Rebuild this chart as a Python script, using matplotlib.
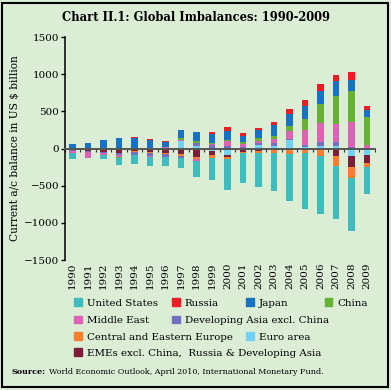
import matplotlib
matplotlib.use('Agg')
import matplotlib.pyplot as plt
from matplotlib.patches import Rectangle, Patch
import numpy as np

plt.rcParams['font.family'] = 'DejaVu Serif'

years = [str(y) for y in range(1990, 2010)]

# current account balances, US$ billion
us = [-80, -5, -50, -100, -122, -114, -125, -141, -215, -300,
      -412, -398, -459, -522, -631, -750, -790, -724, -700, -362]
russia = [0, 0, 0, 8, 8, 8, 12, 0, 0, 25, 45, 34, 30, 45, 60, 84, 98, 89, 98, 54]
japan = [48, 68, 112, 132, 130, 111, 66, 100, 118, 115,
         120, 88, 112, 136, 162, 170, 170, 201, 157, 89]
china = [12, 13, 6, -12, 8, 2, 7, 37, 31, 20, 20, 17, 35, 46, 67, 147, 255, 367, 415, 370]
middle_east = [-20, -70, -30, -25, -10, -10, 10, 10, -25, 10,
               70, 40, 30, 60, 112, 200, 259, 250, 340, 45]
dev_asia = [-10, -15, -5, -20, -35, -40, -40, -30, 45, 50,
            30, 25, 25, 30, 20, 30, 45, 45, 15, 10]
cee = [-5, -5, -5, -10, -10, -15, -20, -25, -30, -45,
       -30, -20, -25, -35, -60, -60, -94, -134, -157, -45]
euro = [0, -5, -5, 5, 5, 5, 10, 100, 30, -35, -80, 0, 50, 40, 110, 25, 40, 40, -95, -80]
emes = [-20, -25, -40, -55, -35, -50, -55, -70, -115, -45,
        -30, -45, -35, -20, -15, 0, 0, -94, -150, -120]

labels = ['United States', 'Russia', 'Japan', 'China', 'Middle East',
          'Developing Asia excl. China', 'Central and Eastern Europe',
          'Euro area', 'EMEs excl. China,  Russia & Developing Asia']
series = [us, russia, japan, china, middle_east, dev_asia, cee, euro, emes]
colors = ['#3dbdbd', '#ee1c25', '#1672c4', '#66b133', '#e062b4',
          '#7470c0', '#fb7e2f', '#72d2f6', '#7c1e3a']
# order in which the segments are stacked outward from zero
stack_order = [7, 8, 6, 5, 4, 3, 2, 1, 0]

bg = '#dcedd6'
fig = plt.figure(figsize=(3.91, 3.90), dpi=100, facecolor=bg)
ax = fig.add_axes([0.166, 0.333, 0.793, 0.572])
ax.set_facecolor(bg)

x = np.arange(len(years))
pos_base = np.zeros(len(years))
neg_base = np.zeros(len(years))
for k in stack_order:
    v = np.array(series[k], dtype=float)
    base = np.where(v >= 0, pos_base, neg_base)
    ax.bar(x, v, 0.42, bottom=base, color=colors[k], linewidth=0)
    pos_base += np.where(v >= 0, v, 0)
    neg_base += np.where(v < 0, v, 0)

ax.set_xlim(-0.5, len(years) - 0.5)
ax.set_ylim(-1500, 1500)
ax.set_yticks(range(-1500, 1501, 500))
ax.tick_params(axis='y', labelsize=7.5, length=3, width=1, pad=1)
ax.set_ylabel('Current a/c balance in US $ billion', fontsize=7.6, labelpad=3)

for s in ['top', 'right']:
    ax.spines[s].set_visible(False)
ax.spines['left'].set_linewidth(1.1)
ax.spines['bottom'].set_position(('data', 0))
ax.spines['bottom'].set_color('#555555')
ax.spines['bottom'].set_linewidth(1.4)
ax.set_xticks(x)
ax.set_xticks(np.arange(-0.5, len(years), 1.0), minor=True)
ax.tick_params(axis='x', which='major', length=0, labelbottom=False)
ax.tick_params(axis='x', which='minor', length=2.5, width=0.8, color='#333333')

sec = ax.secondary_xaxis(0)
sec.set_xticks(x, years, rotation=90, fontsize=7.5)
sec.tick_params(length=0, pad=2)
sec.spines['bottom'].set_visible(False)

fig.text(0.5, 0.955, 'Chart II.1: Global Imbalances: 1990-2009',
         ha='center', va='center', fontsize=8.3, fontweight='bold')

# legend, laid out in flowing rows like the original
legend_pos = [(0.19, 0.223), (0.44, 0.223), (0.63, 0.223), (0.83, 0.223),
              (0.19, 0.179), (0.44, 0.179),
              (0.19, 0.136), (0.63, 0.136),
              (0.19, 0.095)]
for k, (lx, ly) in enumerate(legend_pos):
    fig.legend([Patch(color=colors[k])], [labels[k]], loc='center left',
               bbox_to_anchor=(lx, ly), frameon=False, fontsize=7.4,
               handlelength=0.75, handleheight=0.75, handletextpad=0.5,
               borderpad=0, borderaxespad=0)

fig.text(0.03, 0.046, 'Source:', fontsize=5.8, fontweight='bold', va='center')
fig.text(0.125, 0.046, 'World Economic Outlook, April 2010, International Monetary Fund.',
         fontsize=5.8, va='center')

fig.patches.append(Rectangle((0.006, 0.008), 0.987, 0.985, transform=fig.transFigure,
                             fill=False, edgecolor='black', linewidth=1.5))

fig.savefig('out.png', dpi=100, facecolor=bg)
